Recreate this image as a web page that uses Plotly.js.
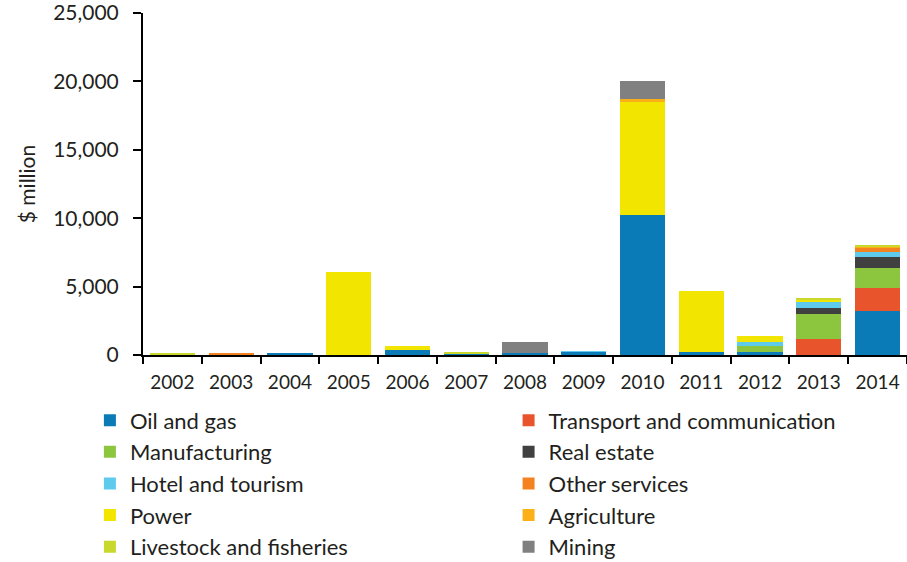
<!DOCTYPE html>
<html>
<head>
<meta charset="utf-8">
<script src="https://cdn.plot.ly/plotly-3.0.1.min.js"></script>
<style>html,body{margin:0;padding:0;background:#fff;}#chart{width:907px;height:562px;}</style>
</head>
<body>
<div id="chart"></div>
<script>
const years = ["2002","2003","2004","2005","2006","2007","2008","2009","2010","2011","2012","2013","2014"];

const oilGas        = [0,   0,   150, 0,    380, 140, 120, 260, 10200, 250,  250, 0,    3190];
const transport     = [0,   30,  0,   0,    0,   0,   0,   0,   0,     0,    0,   1150, 1680];
const manufacturing = [40,  0,   0,   0,    0,   0,   0,   0,   0,     0,    440, 1850, 1500];
const realEstate    = [0,   0,   0,   0,    0,   0,   0,   0,   0,     0,    0,   420,  760];
const hotelTourism  = [0,   0,   0,   0,    0,   0,   0,   30,  0,     0,    290, 460,  390];
const otherServices = [0,   60,  0,   0,    0,   0,   0,   0,   0,     0,    0,   0,    340];
const power         = [0,   0,   0,   6100, 300, 0,   0,   0,   8300,  4420, 420, 150,  0];
const agriculture   = [0,   0,   0,   0,    0,   0,   0,   0,   200,   0,    0,   0,    100];
const livestock     = [40,  0,   0,   0,    0,   40,  0,   0,   0,     0,    0,   70,   50];
const mining        = [0,   0,   0,   0,    0,   0,   830, 0,   1300,  0,    0,   0,    0];

const seriesNames = ["Oil and gas","Transport and communication","Manufacturing","Real estate","Hotel and tourism","Other services","Power","Agriculture","Livestock and fisheries","Mining"];
const seriesData = [oilGas, transport, manufacturing, realEstate, hotelTourism, otherServices, power, agriculture, livestock, mining];
const seriesColors = ["#0a7bb6","#e8542b","#8cc63f","#404041","#5ecbed","#f58220","#f2e500","#fbb017","#c8d82c","#808080"];

const traces = seriesNames.map((n, i) => ({
  type: "bar",
  name: n,
  x: years,
  y: seriesData[i],
  legend: (i % 2 === 0) ? "legend" : "legend2",
  marker: {color: seriesColors[i], line: {width: 0}},
  hoverinfo: "x+y+name"
}));

const txt = "#231f20";
const legendCommon = {
  orientation: "v",
  yanchor: "top",
  y: -0.13,
  xanchor: "left",
  font: {size: 22, color: txt},
  traceorder: "normal",
  bgcolor: "rgba(0,0,0,0)",
  borderwidth: 0,
  itemclick: false, itemdoubleclick: false
};
const layout = {
  width: 907, height: 562,
  margin: {l: 143, r: 0, t: 13, b: 207, autoexpand: false},
  barmode: "stack",
  bargap: 0.23,
  paper_bgcolor: "#fff",
  plot_bgcolor: "#fff",
  font: {family: "Lato, 'Open Sans', sans-serif", color: txt},
  showlegend: true,
  legend: Object.assign({}, legendCommon, {x: -0.0695}),
  legend2: Object.assign({}, legendCommon, {x: 0.4785}),
  xaxis: {
    type: "category",
    showline: true, linecolor: "#000", linewidth: 2,
    ticks: "outside", tickson: "boundaries", ticklen: 7, tickcolor: "#000", tickwidth: 1.5,
    tickfont: {size: 19, color: txt},
    ticklabelstandoff: 9,
    showgrid: false, zeroline: false, fixedrange: true
  },
  yaxis: {
    range: [0, 25000],
    tickvals: [0, 5000, 10000, 15000, 20000, 25000],
    tickformat: ",",
    showline: true, linecolor: "#000", linewidth: 2,
    ticks: "outside", ticklen: 8, tickcolor: "#000", tickwidth: 1.5,
    tickfont: {size: 21, color: txt},
    ticklabelstandoff: 10,
    ticklabeloverflow: "allow",
    showgrid: false, zeroline: false, fixedrange: true,
    title: {text: "$ million", font: {size: 21, color: txt}, standoff: 12}
  }
};

Plotly.newPlot("chart", traces, layout, {displayModeBar: false});
</script>
</body>
</html>
